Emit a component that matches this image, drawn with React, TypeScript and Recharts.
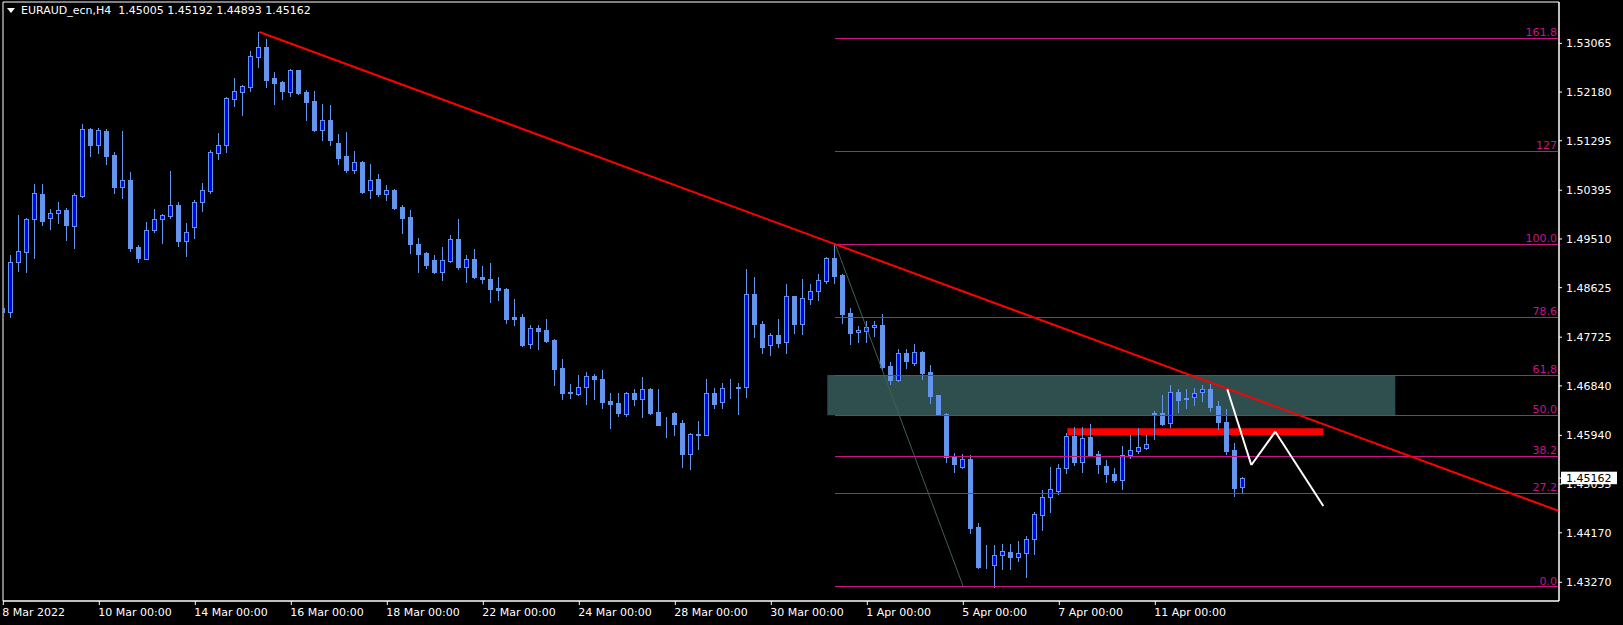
import { ComposedChart, Bar, XAxis, YAxis, ReferenceLine, ReferenceArea } from "recharts";

// EURAUD H4 candles, bar index 0 = 8 Mar 2022 00:00
const opens = [
  1.48256, 1.48183, 1.49091, 1.49273, 1.49873, 1.50327, 1.49891, 1.49982, 1.50036, 1.49745,
  1.50291, 1.51509, 1.51218, 1.51473, 1.51036, 1.50454, 1.50582, 1.49364, 1.49145, 1.49673,
  1.49873, 1.49927, 1.50127, 1.49473, 1.49727, 1.50182, 1.50382, 1.51073, 1.51218, 1.52054,
  1.52181, 1.52272, 1.52817, 1.52999, 1.52435, 1.52363, 1.52181, 1.52581, 1.52181, 1.52018,
  1.5149, 1.51672, 1.51254, 1.51018, 1.50763, 1.50909, 1.504, 1.506, 1.50327, 1.504,
  1.50091, 1.49909, 1.49418, 1.49254, 1.49127, 1.48909, 1.49109, 1.49509, 1.49, 1.49145,
  1.48818, 1.48782, 1.48619, 1.486, 1.48092, 1.48092, 1.47601, 1.47892, 1.47855, 1.47674,
  1.47165, 1.46728, 1.46692, 1.46819, 1.47019, 1.46965, 1.46565, 1.46528, 1.46329, 1.4671,
  1.46601, 1.46783, 1.46365, 1.46137, 1.46347, 1.46165, 1.45602, 1.45965, 1.45947, 1.4671,
  1.46547, 1.46801, 1.46819, 1.46819, 1.4851, 1.47964, 1.47583, 1.47764, 1.47637, 1.48473,
  1.47964, 1.48419, 1.48564, 1.48746, 1.49164, 1.48855, 1.48164, 1.47819, 1.47837, 1.4791,
  1.47946, 1.47201, 1.46946, 1.47437, 1.47256, 1.47456, 1.47092, 1.46674, 1.46329, 1.45547,
  1.45365, 1.4551, 1.44275, 1.43575, 1.43584, 1.43766, 1.43821, 1.4373, 1.43802, 1.44057,
  1.44493, 1.4482, 1.44929, 1.45347, 1.45928, 1.45456, 1.4591, 1.45601, 1.45383, 1.45238,
  1.45129, 1.45583, 1.45656, 1.45711, 1.46329, 1.46347, 1.46165, 1.46728, 1.46619, 1.46637,
  1.46728, 1.46783, 1.46474, 1.46183, 1.45674, 1.45005,
];
const highs = [
  1.48492, 1.49218, 1.49945, 1.49891, 1.50509, 1.50509, 1.50054, 1.50182, 1.50073, 1.50345,
  1.516, 1.51527, 1.51527, 1.51509, 1.51091, 1.51473, 1.50727, 1.494, 1.49818, 1.50054,
  1.49964, 1.50745, 1.50182, 1.498, 1.50218, 1.50527, 1.51127, 1.51436, 1.52091, 1.52436,
  1.523, 1.52926, 1.53271, 1.53144, 1.52544, 1.52381, 1.52599, 1.5259, 1.52217, 1.522,
  1.51963, 1.51945, 1.51417, 1.51454, 1.51109, 1.5092, 1.50872, 1.5069, 1.5049, 1.50418,
  1.50127, 1.50036, 1.49527, 1.49265, 1.49218, 1.49364, 1.49582, 1.49873, 1.49218, 1.49327,
  1.49018, 1.49073, 1.48818, 1.48619, 1.48419, 1.48146, 1.47946, 1.47946, 1.48055, 1.47692,
  1.47328, 1.46874, 1.47037, 1.47092, 1.47056, 1.47128, 1.4671, 1.4671, 1.46728, 1.46783,
  1.47001, 1.46801, 1.46783, 1.46274, 1.4636, 1.46219, 1.45975, 1.46201, 1.46965, 1.46801,
  1.46892, 1.46965, 1.46892, 1.48962, 1.48818, 1.48019, 1.47801, 1.48055, 1.48691, 1.4848,
  1.48782, 1.48691, 1.48873, 1.49182, 1.49413, 1.48865, 1.48255, 1.47928, 1.48019, 1.48019,
  1.48146, 1.47274, 1.4751, 1.4751, 1.47601, 1.47465, 1.47219, 1.4668, 1.46347, 1.4562,
  1.45601, 1.45583, 1.44347, 1.43948, 1.43948, 1.43966, 1.43966, 1.4402, 1.44111, 1.44548,
  1.44947, 1.45365, 1.4542, 1.45983, 1.46092, 1.46092, 1.46147, 1.45656, 1.45492, 1.45347,
  1.45747, 1.45947, 1.46074, 1.45947, 1.46383, 1.46674, 1.46856, 1.46783, 1.46783, 1.46801,
  1.46856, 1.46874, 1.46565, 1.4642, 1.45801, 1.45192,
];
const lows = [
  1.4791, 1.48092, 1.48927, 1.48909, 1.49164, 1.49764, 1.49691, 1.498, 1.49491, 1.49345,
  1.50273, 1.51018, 1.51073, 1.50872, 1.50345, 1.50254, 1.49291, 1.49091, 1.49145, 1.49636,
  1.49436, 1.49891, 1.49382, 1.492, 1.49527, 1.50018, 1.50345, 1.50964, 1.51091, 1.51927,
  1.51763, 1.522, 1.52635, 1.52272, 1.51963, 1.52054, 1.52108, 1.5215, 1.51672, 1.51472,
  1.51308, 1.51218, 1.50872, 1.50727, 1.50709, 1.50345, 1.50254, 1.50291, 1.50218, 1.50054,
  1.49618, 1.49254, 1.48909, 1.48982, 1.489, 1.48764, 1.49091, 1.48963, 1.48727, 1.488,
  1.48709, 1.48364, 1.48401, 1.47983, 1.47946, 1.47565, 1.47528, 1.4751, 1.47637, 1.46856,
  1.46601, 1.46619, 1.46674, 1.4651, 1.46601, 1.46437, 1.46074, 1.46292, 1.46292, 1.46492,
  1.46274, 1.46329, 1.4612, 1.4591, 1.45947, 1.45365, 1.45329, 1.45692, 1.4594, 1.46437,
  1.46437, 1.46619, 1.46329, 1.46637, 1.47728, 1.47437, 1.47401, 1.47546, 1.47437, 1.47801,
  1.47783, 1.48328, 1.48401, 1.48709, 1.48709, 1.47983, 1.47601, 1.47637, 1.47637, 1.47746,
  1.47128, 1.46874, 1.46928, 1.47165, 1.47219, 1.46965, 1.46528, 1.46305, 1.45456, 1.45274,
  1.45347, 1.44166, 1.4353, 1.4353, 1.4319, 1.43512, 1.43512, 1.43657, 1.43366, 1.43784,
  1.4422, 1.44548, 1.44875, 1.45256, 1.45401, 1.45274, 1.45575, 1.45256, 1.45093, 1.45093,
  1.44966, 1.45529, 1.4562, 1.457, 1.45874, 1.46129, 1.46092, 1.46365, 1.46437, 1.46492,
  1.46565, 1.46383, 1.46056, 1.45602, 1.44838, 1.44893,
];
const closes = [
  1.48183, 1.49091, 1.49291, 1.49873, 1.50345, 1.49836, 1.49982, 1.50036, 1.49764, 1.50309,
  1.51509, 1.51218, 1.51491, 1.51018, 1.50454, 1.50582, 1.49345, 1.49164, 1.49673, 1.49873,
  1.49945, 1.50127, 1.49473, 1.49636, 1.50182, 1.504, 1.51091, 1.51218, 1.52072, 1.522,
  1.5229, 1.52835, 1.52999, 1.52399, 1.52344, 1.522, 1.52581, 1.52163, 1.51999, 1.5149,
  1.51672, 1.51308, 1.50981, 1.50763, 1.50909, 1.50363, 1.50582, 1.50327, 1.504, 1.50073,
  1.49891, 1.49418, 1.49236, 1.49036, 1.48909, 1.49127, 1.49509, 1.49, 1.49145, 1.48818,
  1.48782, 1.486, 1.48582, 1.48055, 1.48055, 1.47583, 1.47892, 1.47837, 1.47655, 1.47146,
  1.4671, 1.46719, 1.46819, 1.47019, 1.46965, 1.46546, 1.4651, 1.46347, 1.4671, 1.46601,
  1.46783, 1.46347, 1.46129, 1.46129, 1.46147, 1.45602, 1.45965, 1.45956, 1.4671, 1.4651,
  1.46801, 1.4681, 1.4681, 1.4851, 1.47964, 1.47546, 1.47764, 1.47619, 1.48473, 1.47964,
  1.48437, 1.48564, 1.48764, 1.49164, 1.48837, 1.48146, 1.47801, 1.47855, 1.4791, 1.47946,
  1.47183, 1.46946, 1.47437, 1.47292, 1.47456, 1.47074, 1.46656, 1.4631, 1.45547, 1.4542,
  1.4551, 1.44257, 1.43548, 1.43566, 1.43766, 1.43839, 1.4373, 1.43802, 1.44057, 1.44511,
  1.4482, 1.44966, 1.45347, 1.45928, 1.45456, 1.45892, 1.45583, 1.4542, 1.45238, 1.45129,
  1.45583, 1.45674, 1.45729, 1.45783, 1.46347, 1.46147, 1.46728, 1.46583, 1.46601, 1.4671,
  1.46783, 1.46456, 1.46183, 1.45656, 1.44984, 1.45162,
];

const xTicks = [0, 12, 24, 36, 48, 60, 72, 84, 96, 108, 120, 132, 144];
const xTickLabels = [
  "8 Mar 2022", "10 Mar 00:00", "14 Mar 00:00", "16 Mar 00:00", "18 Mar 00:00",
  "22 Mar 00:00", "24 Mar 00:00", "28 Mar 00:00", "30 Mar 00:00", "1 Apr 00:00",
  "5 Apr 00:00", "7 Apr 00:00", "11 Apr 00:00",
];
const priceTicks = [
  1.4327, 1.4417, 1.45055, 1.4594, 1.4684, 1.47725, 1.48625, 1.4951, 1.50395, 1.51295,
  1.5218, 1.53065,
];
const lastClose = 1.45162;

// fibonacci retracement drawn from bar 104 high to the 5 Apr low
const fibLabels = ["161.8", "127", "100.0", "78.6", "61,8", "50.0", "38.2", "27.2", "0.0"];
const fibPrices = [1.53157, 1.51103, 1.49413, 1.48086, 1.47037, 1.46305, 1.4556, 1.44887, 1.4319];
const fibStartBar = 104;
const fibBaseBars = [104, 120];
const fibBasePrices = [1.49413, 1.4319];

const trendBars = [32, 194.46];
const trendPrices = [1.53271, 1.44566];
const zoneBars = [103, 174];
const zonePrices = [1.46305, 1.47037];
const resistBars = [133, 165];
const resistPrices = [1.45947, 1.46069];
const zigzagBars = [153, 156, 159, 165];
const zigzagPrices = [1.46778, 1.45402, 1.46007, 1.44656];

const xDomain = [-0.04, 194.46];
const yDomain = [1.4293, 1.53817];

const FONT = "DejaVu Sans";
const FIB = "#C71585";
const CANDLE = "#6495ED";

const candles = opens.map((o, i) => ({
  k: i,
  open: o,
  high: highs[i],
  low: lows[i],
  close: closes[i],
}));

function Candle(props: any) {
  const { x, y, width, height, payload } = props;
  if (x == null || y == null) return null;
  const top = Math.min(y, y + height);
  const bottom = Math.max(y, y + height);
  const range = payload.high - payload.low;
  const py = (p: number) => top + ((payload.high - p) / range) * (bottom - top);
  const cx = Math.floor(x + width / 2);
  const bull = payload.close > payload.open;
  const bt = Math.round(py(Math.max(payload.open, payload.close)));
  const bb = Math.round(py(Math.min(payload.open, payload.close)));
  return (
    <g shapeRendering="crispEdges">
      <line x1={cx + 0.5} x2={cx + 0.5} y1={Math.round(top)} y2={Math.round(bottom) + 1} stroke={CANDLE} />
      <rect
        x={cx - 1.5}
        y={bt + 0.5}
        width={4}
        height={Math.max(bb - bt, 0)}
        fill={bull ? "#0000FF" : CANDLE}
        stroke={CANDLE}
      />
    </g>
  );
}

function TimeTick(props: any) {
  const { x, y, payload } = props;
  const i = xTicks.indexOf(payload.value);
  return (
    <text x={x - 1} y={y} dy={11} fill="#fff" fontSize={11} fontFamily={FONT} textAnchor="start">
      {xTickLabels[i]}
    </text>
  );
}

function PriceTick(props: any) {
  const { x, y, payload } = props;
  const v = payload.value;
  if (v === lastClose) {
    return (
      <g>
        <rect x={x - 5} y={y - 6.5} width={56} height={12.5} fill="#fff" />
        <text x={x} y={y} dy={4} fill="#000" fontSize={11} fontFamily={FONT} textAnchor="start">
          {v.toFixed(5)}
        </text>
      </g>
    );
  }
  return (
    <text x={x} y={y} dy={4} fill="#fff" fontSize={11} fontFamily={FONT} textAnchor="start">
      {v.toFixed(5)}
    </text>
  );
}

export default function App() {
  return (
    <div
      style={{
        position: "absolute",
        left: 0,
        top: 0,
        width: 1623,
        height: 625,
        background: "#000",
        overflow: "hidden",
      }}
    >
      <ComposedChart
        width={1623}
        height={625}
        data={candles}
        margin={{ top: 2, right: 0, bottom: 0, left: 3 }}
      >
        <XAxis
          dataKey="k"
          type="number"
          domain={xDomain}
          allowDataOverflow
          ticks={xTicks}
          interval={0}
          height={24}
          axisLine={{ stroke: "#fff" }}
          tickLine={{ stroke: "#fff" }}
          tickSize={4}
          tickMargin={0}
          tick={<TimeTick />}
        />
        <YAxis
          orientation="right"
          type="number"
          domain={yDomain}
          allowDataOverflow
          ticks={[...priceTicks, lastClose]}
          interval={0}
          width={64}
          axisLine={{ stroke: "#fff" }}
          tickLine={{ stroke: "#fff" }}
          tickSize={3}
          tickMargin={4}
          tick={<PriceTick />}
        />
        <ReferenceArea
          x1={zoneBars[0]}
          x2={zoneBars[1]}
          y1={zonePrices[0]}
          y2={zonePrices[1]}
          fill="#2F4F4F"
          fillOpacity={1}
          stroke="none"
        />
        <ReferenceLine
          segment={[
            { x: fibBaseBars[0], y: fibBasePrices[0] },
            { x: fibBaseBars[1], y: fibBasePrices[1] },
          ]}
          stroke="#3E5F55"
          strokeWidth={1}
        />
        <Bar
          dataKey={(d: any) => [d.low, d.high]}
          barSize={5}
          shape={(p: any) => <Candle {...p} />}
          isAnimationActive={false}
        />
        {fibPrices.map((p, i) => (
          <ReferenceLine
            key={fibLabels[i]}
            segment={[
              { x: fibStartBar, y: p },
              { x: xDomain[1], y: p },
            ]}
            stroke={FIB}
            strokeWidth={1}
            shapeRendering="crispEdges"
            label={{
              value: fibLabels[i],
              position: "insideBottomRight",
              offset: 2,
              fill: FIB,
              fontSize: 11,
              fontFamily: FONT,
            }}
          />
        ))}
        <ReferenceArea
          x1={resistBars[0]}
          x2={resistBars[1]}
          y1={resistPrices[0]}
          y2={resistPrices[1]}
          fill="#FF0000"
          fillOpacity={1}
          stroke="none"
        />
        <ReferenceLine
          segment={[
            { x: trendBars[0], y: trendPrices[0] },
            { x: trendBars[1], y: trendPrices[1] },
          ]}
          stroke="#FF0000"
          strokeWidth={2}
        />
        {zigzagBars.slice(1).map((b, i) => (
          <ReferenceLine
            key={b}
            segment={[
              { x: zigzagBars[i], y: zigzagPrices[i] },
              { x: b, y: zigzagPrices[i + 1] },
            ]}
            stroke="#FFFFFF"
            strokeWidth={2}
          />
        ))}
        <ReferenceArea
          x1={xDomain[0]}
          x2={xDomain[1]}
          y1={yDomain[0]}
          y2={yDomain[1]}
          fill="none"
          stroke="#fff"
        />
      </ComposedChart>
      <div
        style={{
          position: "absolute",
          left: 7,
          top: 4,
          color: "#fff",
          fontFamily: FONT,
          fontSize: 11,
          lineHeight: "14px",
          whiteSpace: "pre",
          display: "flex",
          alignItems: "center",
        }}
      >
        <svg width={8} height={6} style={{ marginRight: 6 }}>
          <polygon points="0,0 8,0 4,5" fill="#fff" />
        </svg>
        <span>EURAUD_ecn,H4  1.45005 1.45192 1.44893 1.45162</span>
      </div>
    </div>
  );
}
